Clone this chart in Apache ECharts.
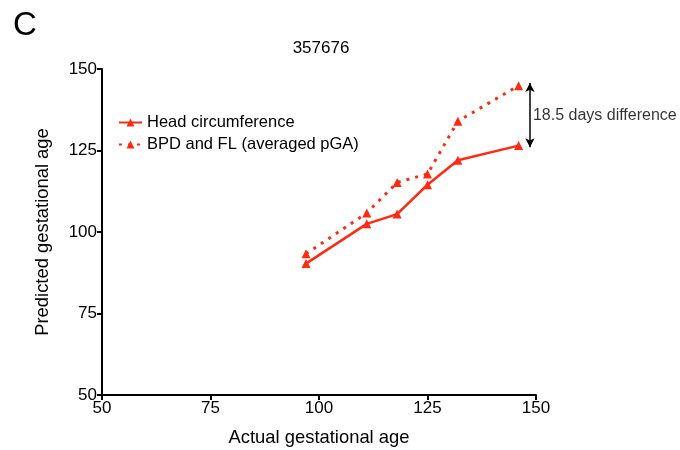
<!DOCTYPE html>
<html>
<head>
<meta charset="utf-8">
<script src="https://cdn.jsdelivr.net/npm/echarts@6/dist/echarts.min.js"></script>
<style>html,body{margin:0;padding:0;background:#fff}#c{width:680px;height:450px}</style>
</head>
<body>
<div id="c"></div>
<script>
const seriesNames = ['Head circumference', 'BPD and FL (averaged pGA)'];
const actualAge = [97, 111, 118, 125, 132, 146];
const headCirc = [90.3, 102.5, 105.5, 114.5, 122.0, 126.5];
const bpdFl = [93.3, 105.8, 115.2, 117.8, 134.0, 144.9];
const xTicks = [50, 75, 100, 125, 150];
const yTicks = [50, 75, 100, 125, 150];
const annotationX = 148.6;
const annotationText = '18.5 days difference';

const red = '#ff2a12';
const font = "'Liberation Sans', Arial, sans-serif";
const chart = echarts.init(document.getElementById('c'));
const lastH = headCirc[headCirc.length - 1];
const lastB = bpdFl[bpdFl.length - 1];

chart.setOption({
  animation: false,
  title: [
    { text: 'C', left: 8, top: 4, textStyle: { fontFamily: font, fontSize: 33, fontWeight: 'normal', color: '#000' } },
    { text: '357676', left: 316, top: 35, textAlign: 'center', textStyle: { fontFamily: font, fontSize: 17, fontWeight: 'normal', color: '#000' } }
  ],
  grid: { left: 102, right: 144, top: 69, bottom: 55, outerBoundsMode: 'none', containLabel: false },
  legend: {
    orient: 'vertical', left: 113, top: 109, itemGap: 5, itemWidth: 23, itemHeight: 10,
    textStyle: { fontFamily: font, fontSize: 16.5, color: '#000' },
    data: seriesNames
  },
  xAxis: {
    type: 'value', min: xTicks[0], max: xTicks[xTicks.length - 1], interval: 25,
    name: 'Actual gestational age', nameLocation: 'middle', nameGap: 34,
    nameTextStyle: { fontFamily: font, fontSize: 18.4, color: '#000' },
    axisLine: { lineStyle: { color: '#000', width: 2 } },
    axisTick: { show: true, length: 5, lineStyle: { color: '#000', width: 2 } },
    axisLabel: { fontFamily: font, fontSize: 17, color: '#000', margin: 5 },
    splitLine: { show: false }
  },
  yAxis: {
    type: 'value', min: yTicks[0], max: yTicks[yTicks.length - 1], interval: 25,
    name: 'Predicted gestational age', nameLocation: 'middle', nameGap: 50,
    nameTextStyle: { fontFamily: font, fontSize: 18.4, color: '#000' },
    axisLine: { show: true, lineStyle: { color: '#000', width: 2 } },
    axisTick: { show: true, length: 5, lineStyle: { color: '#000', width: 2 } },
    axisLabel: { fontFamily: font, fontSize: 17, color: '#000', margin: 5 },
    splitLine: { show: false }
  },
  series: [
    {
      name: seriesNames[0], type: 'line',
      data: actualAge.map((x, i) => [x, headCirc[i]]),
      symbol: 'triangle', symbolSize: 9,
      itemStyle: { color: red },
      lineStyle: { color: red, width: 2.5 }
    },
    {
      name: seriesNames[1], type: 'line',
      data: actualAge.map((x, i) => [x, bpdFl[i]]),
      symbol: 'triangle', symbolSize: 9,
      itemStyle: { color: red },
      lineStyle: { color: red, width: 3, type: [3, 6] }
    },
    {
      name: 'annotation', type: 'scatter', silent: true,
      data: [[annotationX, (lastH + lastB) / 2]],
      symbolSize: 0,
      label: { show: true, position: 'right', distance: 3, formatter: annotationText, fontFamily: font, fontSize: 16, color: '#000' },
      markLine: {
        silent: true, symbol: ['arrow', 'arrow'], symbolSize: [7, 9],
        lineStyle: { color: '#000', width: 1.5, type: 'solid' },
        label: { show: false },
        data: [[{ coord: [annotationX, lastH - 0.5] }, { coord: [annotationX, lastB + 0.8] }]]
      }
    }
  ]
});
</script>
</body>
</html>
